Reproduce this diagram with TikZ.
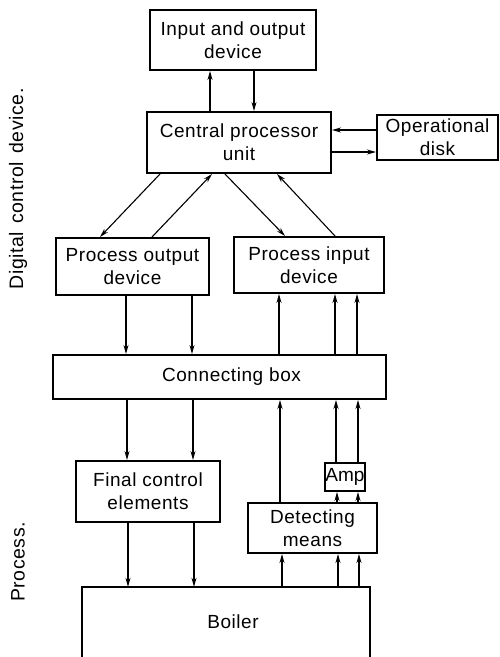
\documentclass[tikz,border=0pt]{standalone}
\usepackage{fontspec}
\setmainfont[LetterSpace=3]{Liberation Sans}
\usetikzlibrary{arrows.meta}
\begin{document}
\begin{tikzpicture}[x=1pt,y=-1pt,
  txt/.style={font=\fontsize{19}{23}\selectfont},
  box/.style={txt,draw,line width=2pt,rectangle,inner sep=0pt,align=center},
  arr/.style={line width=1.1pt,-{Stealth[length=9pt,width=5pt]}},
  side/.style={font=\fontsize{19.5}{23}\selectfont,rotate=90,inner sep=0pt}]
\useasboundingbox (0,0) rectangle (500,657);
% side labels
\node[side] (lbldig) at (18,189) {Digital\hspace{2pt} control\hspace{2pt} device.};
\node[side] (lblproc) at (18,562) {Process.};
% boxes
\node[box,minimum width=166pt,minimum height=60pt] (io) at (233,40) {Input and output\\device};
\node[box,minimum width=184pt,minimum height=61pt] (cpu) at (239,142.5) {Central processor\\unit};
\node[box,minimum width=121pt,minimum height=45pt] (disk) at (437.5,137.5) {Operational\\disk};
\node[box,minimum width=153pt,minimum height=57pt] (pod) at (132.5,266.5) {Process output\\device};
\node[box,minimum width=150pt,minimum height=56pt] (pid) at (309,265) {Process input\\device};
\node[box,minimum width=333pt,minimum height=44pt] (cb) at (219.5,377) {\hspace*{24pt}Connecting box};
\node[box,minimum width=144pt,minimum height=61pt] (fce) at (148,491.5) {Final control\\elements};
\node[box,minimum width=40pt,minimum height=28pt] (amp) at (345,477) {\addfontfeatures{LetterSpace=0}Amp};
\node[box,minimum width=129pt,minimum height=50pt] (dm) at (312.5,528) {Detecting\\means};
\node[txt,minimum width=288pt,minimum height=70pt,inner sep=0pt] (boiler) at (226,622) {\hspace*{14pt}Boiler};
\draw[line width=2pt] (boiler.south west) -- (boiler.north west) -- (boiler.north east) -- (boiler.south east);
% CPU <-> IO
\draw[arr] (210,0 |- cpu.north) -- (210,0 |- io.south);
\draw[arr] (254,0 |- io.south) -- (254,0 |- cpu.north);
% CPU <-> disk
\draw[arr] (disk.west |- 0,130) -- (cpu.east |- 0,130);
\draw[arr] (cpu.east |- 0,152) -- (disk.west |- 0,152);
% diagonals
\draw[arr] (160,0 |- cpu.south) -- (100,0 |- pod.north);
\draw[arr] (152,0 |- pod.north) -- (212,0 |- cpu.south);
\draw[arr] (225,0 |- cpu.south) -- (285,0 |- pid.north);
\draw[arr] (335,0 |- pid.north) -- (277,0 |- cpu.south);
% POD -> CB
\draw[arr] (126,0 |- pod.south) -- (126,0 |- cb.north);
\draw[arr] (192,0 |- pod.south) -- (192,0 |- cb.north);
% CB -> PID
\draw[arr] (279,0 |- cb.north) -- (279,0 |- pid.south);
\draw[arr] (335,0 |- cb.north) -- (335,0 |- pid.south);
\draw[arr] (357,0 |- cb.north) -- (357,0 |- pid.south);
% CB -> FCE
\draw[arr] (127,0 |- cb.south) -- (127,0 |- fce.north);
\draw[arr] (193,0 |- cb.south) -- (193,0 |- fce.north);
% DM/Amp -> CB
\draw[arr] (280,0 |- dm.north) -- (280,0 |- cb.south);
\draw[arr] (336,0 |- amp.north) -- (336,0 |- cb.south);
\draw[arr] (358,0 |- amp.north) -- (358,0 |- cb.south);
% DM -> Amp
\draw[arr] (337,0 |- dm.north) -- (337,0 |- amp.south);
\draw[arr] (358,0 |- dm.north) -- (358,0 |- amp.south);
% FCE -> boiler
\draw[arr] (128,0 |- fce.south) -- (128,0 |- boiler.north);
\draw[arr] (194,0 |- fce.south) -- (194,0 |- boiler.north);
% boiler -> DM
\draw[arr] (282,0 |- boiler.north) -- (282,0 |- dm.south);
\draw[arr] (338,0 |- boiler.north) -- (338,0 |- dm.south);
\draw[arr] (359,0 |- boiler.north) -- (359,0 |- dm.south);
\end{tikzpicture}
\end{document}
